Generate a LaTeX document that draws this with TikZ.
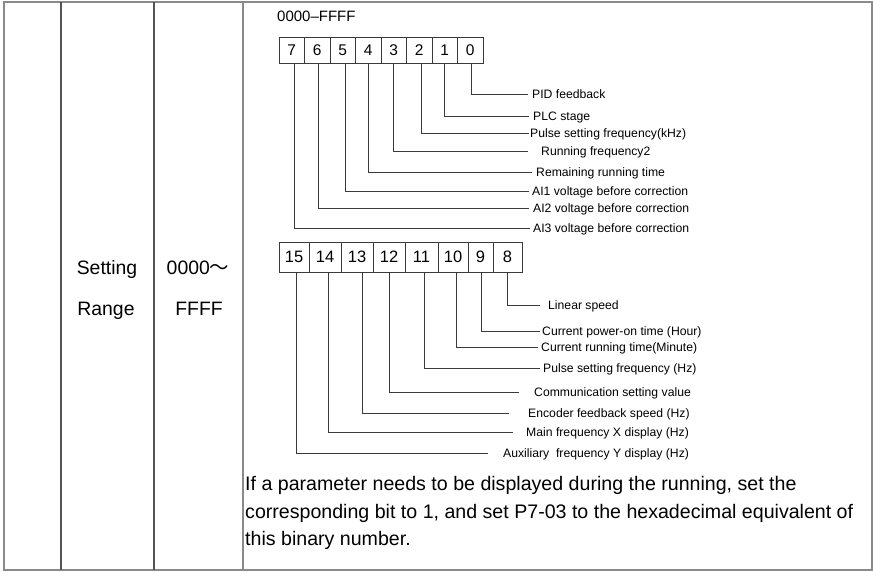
\documentclass[tikz,border=0pt]{standalone}
\usepackage{fontspec}
\setmainfont{Liberation Sans}
\newfontfamily\cjkfont{Noto Sans CJK SC}
\definecolor{tblgray}{HTML}{8A8A8A}
\definecolor{coldark}{HTML}{555555}
\definecolor{linegray}{HTML}{3A3A3A}
\begin{document}
\begin{tikzpicture}[x=1pt,y=-1pt,
  tblline/.style={draw=tblgray,line width=1.3pt},
  colline/.style={draw=coldark,line width=1.1pt},
  bitA/.style={draw=linegray,line width=0.9pt,minimum width=25.5pt,minimum height=26pt,inner sep=0pt,font=\fontsize{15.5}{15.5}\selectfont},
  bitB/.style={draw=linegray,line width=0.9pt,minimum height=30pt,inner sep=0pt,font=\fontsize{16.5}{16.5}\selectfont},
  lab/.style={anchor=west,inner ysep=0pt,text height=8.7pt,text depth=0pt,font=\fontsize{12.2}{12.2}\selectfont},
  conn/.style={draw=linegray,line width=0.9pt},
  big/.style={inner sep=0pt,text height=13.9pt,text depth=0pt,font=\fontsize{19.4}{19.4}\selectfont},
  note/.style={anchor=base west,inner sep=0pt,font=\fontsize{19.6}{19.6}\selectfont}
]
\useasboundingbox (0,0) rectangle (873,571);
\fill[white] (0,0) rectangle (873,571);
% table
\draw[tblline] (4,2) rectangle (872,570);
\draw[colline] (61,2) -- (61,570);
\draw[colline] (154,2) -- (154,570);
\draw[tblline] (243,2) -- (243,570);
% left texts
\node[big] (setting) at (107,268) {Setting};
\node[big] (range) at (106,309) {Range};
\node[big] (from) at (198,268) {0000{\cjkfont ～}};
\node[big] (to) at (199,309) {FFFF};
% title
\node[anchor=west,inner sep=0pt,font=\fontsize{15}{15}\selectfont] (title) at (277,16) {0000–FFFF};
% row 1 boxes
\node[bitA] (b7) at (291.75,50) {7};
\node[bitA] (b6) at (317.25,50) {6};
\node[bitA] (b5) at (342.75,50) {5};
\node[bitA] (b4) at (368.25,50) {4};
\node[bitA] (b3) at (393.75,50) {3};
\node[bitA] (b2) at (419.25,50) {2};
\node[bitA] (b1) at (444.75,50) {1};
\node[bitA] (b0) at (470.25,50) {0};
% row 1 labels
\node[lab,inner xsep=4pt] (l0) at (528,94) {PID feedback};
\node[lab,inner xsep=4pt] (l1) at (529,116) {PLC stage};
\node[lab,inner xsep=1pt] (l2) at (529,133) {Pulse setting frequency(kHz)};
\node[lab,inner xsep=13pt] (l3) at (528,151) {Running frequency2};
\node[lab,inner xsep=4pt] (l4) at (532,172) {Remaining running time};
\node[lab,inner xsep=3pt] (l5) at (529,191) {AI1 voltage before correction};
\node[lab,inner xsep=4pt] (l6) at (529,208) {AI2 voltage before correction};
\node[lab,inner xsep=3pt] (l7) at (530,228) {AI3 voltage before correction};
% row 1 connectors
\draw[conn] ([xshift=0.75pt]b0.south) |- (l0.west);
\draw[conn] ([xshift=-0.75pt]b1.south) |- (l1.west);
\draw[conn] ([xshift=1.75pt]b2.south) |- (l2.west);
\draw[conn] (b3.south) |- (l3.west);
\draw[conn] (b4.south) |- (l4.west);
\draw[conn] ([xshift=2.25pt]b5.south) |- (l5.west);
\draw[conn] ([xshift=0.75pt]b6.south) |- (l6.west);
\draw[conn] ([xshift=2.25pt]b7.south) |- (l7.west);
% row 2 boxes
\node[bitB,minimum width=30pt] (b15) at (294,257) {15};
\node[bitB,minimum width=32pt] (b14) at (325,257) {14};
\node[bitB,minimum width=32pt] (b13) at (357,257) {13};
\node[bitB,minimum width=32pt] (b12) at (389,257) {12};
\node[bitB,minimum width=33pt] (b11) at (421.5,257) {11};
\node[bitB,minimum width=30pt] (b10) at (453,257) {10};
\node[bitB,minimum width=25pt] (b9) at (480.5,257) {9};
\node[bitB,minimum width=29pt] (b8) at (507.5,257) {8};
% row 2 labels
\node[lab,inner xsep=8pt] (l8) at (540,305) {Linear speed};
\node[lab,inner xsep=2pt] (l9) at (540,331) {Current power-on time (Hour)};
\node[lab,inner xsep=3pt] (l10) at (538,347) {Current running time(Minute)};
\node[lab,inner xsep=3pt] (l11) at (540,368.5) {Pulse setting frequency (Hz)};
\node[lab,inner xsep=15pt] (l12) at (519,392) {Communication setting value};
\node[lab,inner xsep=19pt] (l13) at (509,413) {Encoder feedback speed (Hz)};
\node[lab,inner xsep=13pt] (l14) at (513,432) {Main frequency X display (Hz)};
\node[lab,inner xsep=15pt] (l15) at (488,453) {Auxiliary\ \ frequency Y display (Hz)};
% row 2 connectors
\draw[conn] ([xshift=-0.5pt]b8.south) |- (l8.west);
\draw[conn] ([xshift=0.5pt]b9.south) |- (l9.west);
\draw[conn] ([xshift=3pt]b10.south) |- (l10.west);
\draw[conn] ([xshift=2.5pt]b11.south) |- (l11.west);
\draw[conn] (b12.south) |- (l12.west);
\draw[conn] ([xshift=5pt]b13.south) |- (l13.west);
\draw[conn] ([xshift=3pt]b14.south) |- (l14.west);
\draw[conn] ([xshift=2pt]b15.south) |- (l15.west);
% note
\node[note] (n1) at (245,490) {If a parameter needs to be displayed during the running, set the};
\node[note] (n2) at (245,518) {corresponding bit to 1, and set P7-03 to the hexadecimal equivalent of};
\node[note] (n3) at (245,545) {this binary number.};
\end{tikzpicture}
\end{document}
